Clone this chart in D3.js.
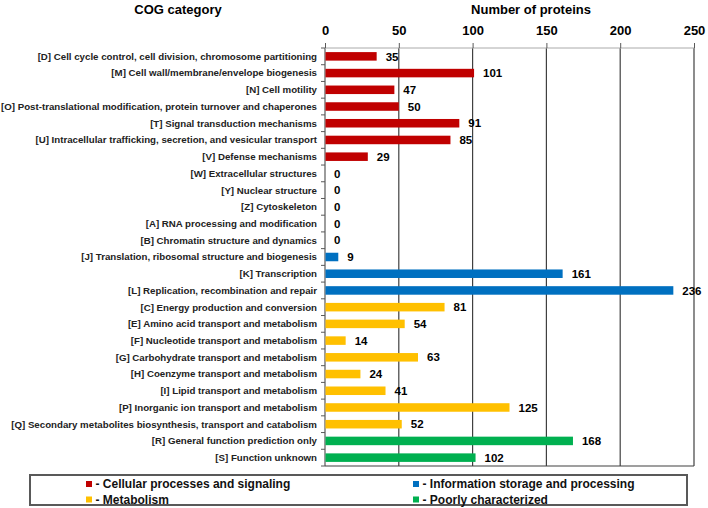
<!DOCTYPE html>
<html><head><meta charset="utf-8">
<script src="https://cdn.jsdelivr.net/npm/d3@7"></script>
<style>body{margin:0;background:#fff}svg{display:block}text{font-family:"Liberation Sans",Arial,sans-serif;font-weight:bold}</style>
</head><body><svg id="c" width="708" height="508"></svg>
<script>
const categories = [
"[D] Cell cycle control, cell division, chromosome partitioning",
"[M] Cell wall/membrane/envelope biogenesis",
"[N] Cell motility",
"[O] Post-translational modification, protein turnover and chaperones",
"[T] Signal transduction mechanisms",
"[U] Intracellular trafficking, secretion, and vesicular transport",
"[V] Defense mechanisms",
"[W] Extracellular structures",
"[Y] Nuclear structure",
"[Z] Cytoskeleton",
"[A] RNA processing and modification",
"[B] Chromatin structure and dynamics",
"[J] Translation, ribosomal structure and biogenesis",
"[K] Transcription",
"[L] Replication, recombination and repair",
"[C] Energy production and conversion",
"[E] Amino acid transport and metabolism",
"[F] Nucleotide transport and metabolism",
"[G] Carbohydrate transport and metabolism",
"[H] Coenzyme transport and metabolism",
"[I] Lipid transport and metabolism",
"[P] Inorganic ion transport and metabolism",
"[Q] Secondary metabolites biosynthesis, transport and catabolism",
"[R] General function prediction only",
"[S] Function unknown"];
const values = [35,101,47,50,91,85,29,0,0,0,0,0,9,161,236,81,54,14,63,24,41,125,52,168,102];
const groups = [0,0,0,0,0,0,0,0,0,0,1,1,1,1,1,2,2,2,2,2,2,2,2,3,3];
const groupNames = ["- Cellular processes and signaling","- Information storage and processing","- Metabolism","- Poorly characterized"];
const groupColors = ["#C00000","#0070C0","#FFC000","#00B050"];
const tickValues = [0,50,100,150,200,250];

const svg = d3.select("#c");
const x = d3.scaleLinear().domain([0,250]).range([325,694]);
const y = d3.scaleBand().domain(categories).range([48,466]).paddingInner(0.49).paddingOuter(0.245);

// titles
svg.append("text").attr("x",178).attr("y",14).attr("text-anchor","middle").attr("font-size",13).text("COG category");
svg.append("text").attr("x",531).attr("y",14).attr("text-anchor","middle").attr("font-size",13).text("Number of proteins");

// grid
svg.append("g").selectAll("line").data(tickValues).join("line")
  .attr("x1",d=>x(d)).attr("x2",d=>x(d)).attr("y1",48).attr("y2",466)
  .attr("stroke",d=>d===0?"#595959":"#404040").attr("stroke-width",1.2);
// frame top & bottom
svg.append("line").attr("x1",325).attr("x2",694).attr("y1",48).attr("y2",48).attr("stroke","#aaa");
svg.append("line").attr("x1",325).attr("x2",694).attr("y1",466).attr("y2",466).attr("stroke","#404040").attr("stroke-width",1.2);

// top axis
const topAxis = svg.append("g").attr("transform","translate(0,48)")
  .call(d3.axisTop(x).tickValues(tickValues).tickSize(5).tickPadding(8));
topAxis.select(".domain").remove();
topAxis.selectAll("line").attr("stroke","#595959");
topAxis.selectAll("text").attr("font-size",13).attr("font-family","'Liberation Sans',Arial,sans-serif").attr("font-weight","bold").attr("fill","#000");

// left ticks at band boundaries
const step = y.step();
const bounds = d3.range(categories.length+1).map(i=>48+i*step);
svg.append("g").selectAll("line").data(bounds).join("line")
  .attr("x1",321).attr("x2",325).attr("y1",d=>d).attr("y2",d=>d).attr("stroke","#595959");

// category labels
svg.append("g").selectAll("text").data(categories).join("text")
  .attr("x",317).attr("y",d=>y(d)+y.bandwidth()/2).attr("dy","0.35em")
  .attr("text-anchor","end").attr("font-size",9.7).attr("fill","#222").text(d=>d);

// bars
svg.append("g").selectAll("rect").data(categories).join("rect")
  .attr("x",x(0)+0.5).attr("y",d=>y(d)).attr("height",y.bandwidth())
  .attr("width",(d,i)=>Math.max(0,x(values[i])-x(0)-0.5))
  .attr("fill",(d,i)=>groupColors[groups[i]]);

// value labels
svg.append("g").selectAll("text").data(categories).join("text")
  .attr("x",(d,i)=>x(values[i])+9).attr("y",d=>y(d)+y.bandwidth()/2).attr("dy","0.36em")
  .attr("font-size",11.5).attr("fill","#000").text((d,i)=>values[i]);

// legend
svg.append("rect").attr("x",30).attr("y",475).attr("width",657).attr("height",30)
  .attr("fill","#fff").attr("stroke","#595959").attr("stroke-width",2);
const lx = [86,413], ly = [484,499.5];
const lg = svg.append("g").selectAll("g").data(groupNames).join("g")
  .attr("transform",(d,i)=>`translate(${lx[i%2]},${ly[Math.floor(i/2)]})`);
lg.append("rect").attr("x",0).attr("y",-3).attr("width",6).attr("height",6).attr("fill",(d,i)=>groupColors[i]);
lg.append("text").attr("x",9.5).attr("y",0).attr("dy","0.36em").attr("font-size",12).attr("fill","#111").text(d=>d);
</script></body></html>
